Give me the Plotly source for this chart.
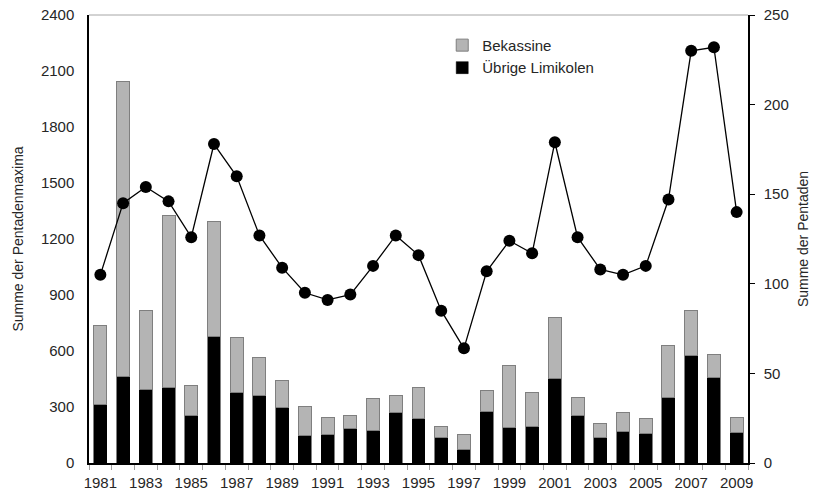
import plotly.graph_objects as go

years = list(range(1981, 2010))
total_max = [734, 2042, 816, 1328, 414, 1292, 675, 564, 444, 302, 246, 257, 343, 360,
             402, 193, 155, 391, 520, 380, 782, 353, 214, 268, 237, 627, 819, 580, 246]
uebrige = [311, 464, 393, 405, 257, 678, 378, 359, 298, 148, 153, 186, 175, 271,
           237, 136, 73, 275, 191, 194, 453, 255, 137, 169, 158, 352, 575, 460, 164]
bekassine = [t - u for t, u in zip(total_max, uebrige)]
pentaden = [105, 145, 154, 146, 126, 178, 160, 127, 109, 95, 91, 94, 110, 127,
            116, 85, 64, 107, 124, 117, 179, 126, 108, 105, 110, 147, 230, 232, 140]

label_years = years[::2]
boundaries = [y - 0.5 for y in years] + [years[-1] + 0.5]

FONT = "Liberation Sans, Arial, sans-serif"
TXT = "#262626"

fig = go.Figure()
fig.add_trace(go.Bar(x=years, y=uebrige, name="Übrige Limikolen",
                     marker=dict(color="#000000", line=dict(color="#000000", width=0.5)),
                     legendrank=2))
fig.add_trace(go.Bar(x=years, y=bekassine, name="Bekassine",
                     marker=dict(color="#b4b4b4", line=dict(color="#7f7f7f", width=1)),
                     legendrank=1))
fig.add_trace(go.Scatter(x=years, y=pentaden, yaxis="y2", mode="lines+markers",
                         line=dict(color="#000000", width=1.3),
                         marker=dict(color="#000000", size=12),
                         showlegend=False))

fig.update_layout(
    width=815, height=493,
    margin=dict(l=89, r=67, t=15, b=30, autoexpand=False),
    paper_bgcolor="white", plot_bgcolor="white",
    barmode="stack", bargap=0.43,
    font=dict(family=FONT, size=15, color=TXT),
    showlegend=True,
    legend=dict(x=0.536, y=0.969, xanchor="left", yanchor="top", traceorder="normal",
                bgcolor="rgba(0,0,0,0)", font=dict(size=15, color=TXT),
                itemwidth=30, tracegroupgap=0),
    xaxis=dict(range=[1980.5, 2009.5], tickmode="array", tickvals=label_years,
               ticktext=[str(y) for y in label_years], ticks="",
               showline=True, linecolor="#000000", linewidth=1.5,
               showgrid=False, zeroline=False, automargin=False,
               ticklabelstandoff=5, ticklabeloverflow="allow",
               minor=dict(tickmode="array", tickvals=boundaries, ticks="outside",
                          ticklen=5, tickcolor="#a0a0a0", tickwidth=1, showgrid=False),
               tickfont=dict(size=15, color=TXT)),
    yaxis=dict(range=[0, 2400], tickmode="linear", tick0=0, dtick=300,
               showline=True, linecolor="#000000", linewidth=1.5,
               showgrid=False, zeroline=False, ticks="", automargin=False,
               ticklabelstandoff=10, ticklabeloverflow="allow",
               title=dict(text="Summe der Pentadenmaxima", font=dict(size=14, color=TXT),
                          standoff=14),
               tickfont=dict(size=15, color=TXT)),
    yaxis2=dict(range=[0, 250], tickmode="linear", tick0=0, dtick=50,
                overlaying="y", side="right", automargin=False,
                showline=True, linecolor="#000000", linewidth=1.5,
                showgrid=False, zeroline=False, ticks="outside", ticklen=5,
                tickcolor="#000000", ticklabelstandoff=6, ticklabeloverflow="allow",
                title=dict(text="Summe der Pentaden", font=dict(size=14, color=TXT),
                           standoff=10),
                tickfont=dict(size=15, color=TXT)),
    shapes=[dict(type="line", xref="paper", yref="paper", x0=0, x1=1, y0=1, y1=1,
                 line=dict(color="#a6a6a6", width=1))],
)

fig.write_html("out.html", config={"displayModeBar": False},
               post_script="document.body.style.margin='0';document.body.style.overflow='hidden';")
